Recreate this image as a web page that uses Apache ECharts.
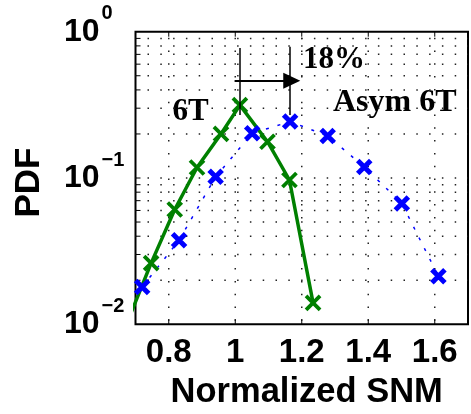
<!DOCTYPE html>
<html>
<head>
<meta charset="utf-8">
<script src="https://cdn.jsdelivr.net/npm/echarts@6/dist/echarts.min.js"></script>
<style>
  html, body { margin: 0; padding: 0; background: #fff; }
  #main { width: 471px; height: 414px; }
</style>
</head>
<body>
<div id="main"></div>
<script>
// 6T cell (green, solid)
const snm6T = [0.676, 0.747, 0.818, 0.885, 0.957, 1.014, 1.097, 1.163, 1.234];
const pdf6T = [0.0104, 0.0262, 0.0609, 0.118, 0.200, 0.315, 0.177, 0.0969, 0.0140];
// Asymmetric 6T cell (blue, dotted)
const snmAsym = [0.720, 0.831, 0.941, 1.051, 1.165, 1.278, 1.388, 1.501, 1.611];
const pdfAsym = [0.0180, 0.0375, 0.102, 0.202, 0.243, 0.194, 0.119, 0.067, 0.0213];

const xTicks = [0.8, 1, 1.2, 1.4, 1.6];
const yMinor = [0.02, 0.03, 0.04, 0.05, 0.06, 0.07, 0.08, 0.09, 0.1,
                0.2, 0.3, 0.4, 0.5, 0.6, 0.7, 0.8, 0.9];

// shift annotation: peak markers and arrow (data coords)
const peakLeft = [1.014, 0.774, 0.27];
const peakRight = [1.165, 0.79, 0.27];
const arrowY = 0.462;
const arrowFrom = 0.998;
const arrowTo = 1.170;

const chart = echarts.init(document.getElementById('main'));

const xSym = 'path://M0,0L10,10M10,0L0,10';
const sans = 'Liberation Sans, Arial, sans-serif';
const serif = 'Liberation Serif, Times New Roman, serif';

function pairs(xs, ys) {
  return xs.map((x, i) => [x, ys[i]]);
}

chart.setOption({
  animation: false,
  grid: {
    left: 135.5, top: 31.7, width: 341, height: 292.6,
    show: true, borderColor: '#000', borderWidth: 2, backgroundColor: 'transparent'
  },
  xAxis: {
    type: 'value', min: 0.7, max: 1.7, interval: 0.1,
    axisLine: { show: false }, axisTick: { show: false }, splitLine: { show: false },
    axisLabel: {
      margin: 12,
      color: '#000', fontFamily: sans, fontWeight: 'bold', fontSize: 33,
      formatter: v => xTicks.some(t => Math.abs(t - v) < 1e-6) ? String(+v.toFixed(1)) : ''
    }
  },
  yAxis: {
    type: 'log', logBase: 10, min: 0.01, max: 1,
    axisLine: { show: false }, axisTick: { show: false }, splitLine: { show: false },
    axisLabel: {
      margin: 71.5, align: 'left', color: '#000',
      formatter: v => {
        const e = Math.round(Math.log10(v));
        return '{b|10}{s|' + (e === 0 ? '0' : '\u2212' + (-e)) + '}';
      },
      rich: {
        b: { fontFamily: sans, fontWeight: 'bold', fontSize: 32, lineHeight: 56, verticalAlign: 'middle', color: '#000' },
        s: { fontFamily: sans, fontWeight: 'bold', fontSize: 20, lineHeight: 20, verticalAlign: 'top', color: '#000', padding: [0, 0, 0, 2] }
      }
    }
  },
  series: [
    {
      type: 'custom',
      silent: true,
      data: yMinor.map(v => [0.7, v]),
      renderItem: (params, api) => {
        const cs = params.coordSys;
        const p = api.coord([api.value(0), api.value(1)]);
        return {
          type: 'group',
          children: [
            { type: 'line', shape: { x1: cs.x, y1: p[1], x2: cs.x + cs.width, y2: p[1] },
              style: { stroke: '#222', lineWidth: 1.5, lineDash: [1.5, 11.3], lineDashOffset: -12 } },
            { type: 'line', shape: { x1: cs.x, y1: p[1], x2: cs.x + 5, y2: p[1] },
              style: { stroke: '#000', lineWidth: 1 } }
          ]
        };
      }
    },
    {
      type: 'custom',
      silent: true,
      data: xTicks.map(v => [v, 0.01]),
      renderItem: (params, api) => {
        const cs = params.coordSys;
        const p = api.coord([api.value(0), api.value(1)]);
        return {
          type: 'group',
          children: [
            { type: 'line', shape: { x1: p[0], y1: cs.y, x2: p[0], y2: cs.y + cs.height },
              style: { stroke: '#222', lineWidth: 1.5, lineDash: [1.5, 11.3], lineDashOffset: -6 } },
            { type: 'line', shape: { x1: p[0], y1: cs.y + cs.height, x2: p[0], y2: cs.y + cs.height - 5 },
              style: { stroke: '#000', lineWidth: 1 } },
            { type: 'line', shape: { x1: p[0], y1: cs.y, x2: p[0], y2: cs.y + 5 },
              style: { stroke: '#000', lineWidth: 1 } }
          ]
        };
      }
    },
    {
      name: 'Asym 6T',
      type: 'line',
      data: pairs(snmAsym, pdfAsym),
      symbol: xSym, symbolSize: 13,
      lineStyle: { color: '#0000ff', width: 1.5, type: [3, 9] },
      itemStyle: { color: '#0000ff', borderColor: '#0000ff', borderWidth: 5 },
      markLine: {
        silent: true,
        symbol: ['none', 'none'],
        label: { show: false },
        lineStyle: { color: '#000', type: 'solid', width: 1.5 },
        data: [
          [{ coord: [peakLeft[0], peakLeft[1]] }, { coord: [peakLeft[0], peakLeft[2]] }],
          [{ coord: [peakRight[0], peakRight[1]] }, { coord: [peakRight[0], peakRight[2]] }],
          [{ coord: [arrowFrom, arrowY], lineStyle: { width: 2 } },
           { coord: [arrowTo, arrowY], symbol: 'triangle', symbolSize: [16, 17] }]
        ]
      }
    },
    {
      name: '6T',
      type: 'line',
      data: pairs(snm6T, pdf6T),
      symbol: xSym, symbolSize: 14,
      lineStyle: { color: '#008000', width: 3.5 },
      itemStyle: { color: '#008000', borderColor: '#008000', borderWidth: 3.8 }
    }
  ],
  graphic: [
    { type: 'text', x: 303, y: 60.3, style: { text: '18%', font: 'bold 31px ' + serif, fill: '#000', align: 'left', verticalAlign: 'middle' } },
    { type: 'text', x: 172.5, y: 112, style: { text: '6T', font: 'bold 31px ' + serif, fill: '#000', align: 'left', verticalAlign: 'middle' } },
    { type: 'text', x: 333, y: 103, style: { text: 'Asym 6T', font: 'bold 32px ' + serif, fill: '#000', align: 'left', verticalAlign: 'middle' } },
    { type: 'text', x: 306.7, y: 392, style: { text: 'Normalized SNM', font: 'bold 34.5px ' + sans, fill: '#000', align: 'center', verticalAlign: 'middle' } },
    { type: 'text', x: 29, y: 182.5, rotation: Math.PI / 2, style: { text: 'PDF', font: 'bold 35px ' + sans, fill: '#000', align: 'center', verticalAlign: 'middle' } }
  ]
});
</script>
</body>
</html>
